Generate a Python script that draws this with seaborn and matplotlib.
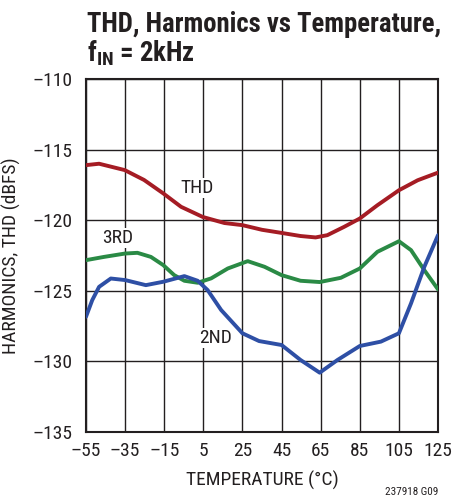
import pandas as pd
import matplotlib.pyplot as plt
import seaborn as sns

# values
thd_temp = [-55, -48.3, -35.2, -25.3, -15.5, -6.4, 4.7, 15.8, 25, 35, 45, 54.7, 62.4, 68.4, 77, 85, 94, 105, 114.6, 125]
thd_db = [-116.1, -116.0, -116.45, -117.15, -118.1, -119.05, -119.77, -120.2, -120.35, -120.68, -120.9, -121.12, -121.22, -121.06, -120.47, -119.88, -118.94, -117.88, -117.17, -116.63]

third_temp = [-55, -45.8, -35, -28.7, -21.8, -15.5, -9.9, -4.7, 2.1, 9, 17.5, 27.7, 36.3, 45, 54.7, 64.5, 75.3, 85, 94, 105, 111.2, 118, 125]
third_db = [-122.83, -122.6, -122.36, -122.31, -122.6, -123.18, -123.89, -124.29, -124.43, -124.12, -123.42, -122.9, -123.3, -123.89, -124.29, -124.38, -124.08, -123.42, -122.24, -121.49, -122.12, -123.54, -124.9]

second_temp = [-55, -51.8, -48.3, -42.3, -35, -24.4, -15.5, -4.7, 2.1, 7.2, 14.1, 25, 33.5, 45, 54.7, 64.5, 73.6, 85, 95.8, 105, 111.2, 118, 125]
second_db = [-126.84, -125.66, -124.72, -124.13, -124.24, -124.6, -124.36, -123.96, -124.29, -124.95, -126.36, -128.01, -128.56, -128.84, -129.9, -130.8, -129.9, -128.91, -128.6, -128.01, -125.89, -123.3, -121.06]

x_ticks = [-55, -35, -15, 5, 25, 45, 65, 85, 105, 125]
y_ticks = [-135, -130, -125, -120, -115, -110]

df = pd.concat([
    pd.DataFrame({'temp': thd_temp, 'db': thd_db, 'series': 'THD'}),
    pd.DataFrame({'temp': third_temp, 'db': third_db, 'series': '3RD'}),
    pd.DataFrame({'temp': second_temp, 'db': second_db, 'series': '2ND'}),
])
colors = {'THD': '#a51c24', '3RD': '#2a8a45', '2ND': '#2e4fa5'}

sns.set_style('white')
plt.rcParams['font.family'] = ['Roboto Condensed', 'Liberation Sans', 'DejaVu Sans']
plt.rcParams['mathtext.fontset'] = 'custom'
plt.rcParams['mathtext.rm'] = 'Roboto Condensed'
plt.rcParams['mathtext.bf'] = 'Roboto Condensed:bold'

ink = '#231f20'
fig = plt.figure(figsize=(4.54, 5.03), dpi=100)
ax = fig.add_axes([0.1894, 0.1412, 0.7754, 0.7017])

sns.lineplot(data=df, x='temp', y='db', hue='series', palette=colors,
             linewidth=2.8, legend=False, ax=ax, zorder=3)
for ln in ax.lines:
    ln.set_solid_joinstyle('round')
    ln.set_solid_capstyle('round')

ax.set_xlim(-55, 125)
ax.set_ylim(-135, -110)
ax.set_xticks(x_ticks)
ax.set_yticks(y_ticks)
ax.set_xticklabels([str(t).replace('-', '\u2013') for t in x_ticks])
ax.set_yticklabels([str(t).replace('-', '\u2013') for t in y_ticks])
ax.tick_params(axis='x', labelsize=14, length=0, pad=7, colors=ink)
ax.tick_params(axis='y', labelsize=14, length=0, pad=10, colors=ink)
ax.grid(True, color=ink, linewidth=1)
for s in ax.spines.values():
    s.set_color(ink)
    s.set_linewidth(1.5)

ax.set_xlabel('TEMPERATURE (°C)', fontsize=14, color=ink, labelpad=8)
ax.set_ylabel('HARMONICS, THD (dBFS)', fontsize=14, color=ink, labelpad=8)

lbl = dict(fontsize=14, color=ink, ha='center', va='center', zorder=4,
           bbox=dict(facecolor='white', edgecolor='none', pad=0.5))
ax.text(1.7, -117.7, 'THD', **lbl)
ax.text(-38.6, -121.25, '3RD', **lbl)
ax.text(11.5, -128.35, '2ND', **lbl)

fig.text(0.192, 0.936, 'THD, Harmonics vs Temperature,', fontsize=19.3,
         fontweight='bold', color=ink, ha='left', va='baseline')
fig.text(0.192, 0.877, '$\\mathbf{f_{IN}}$ = 2kHz', fontsize=19.3,
         fontweight='bold', color=ink, ha='left', va='baseline')
fig.text(0.965, 0.012, '237918 G09', fontsize=8, color=ink, ha='right', va='bottom')

fig.savefig('out.png', dpi=100)
